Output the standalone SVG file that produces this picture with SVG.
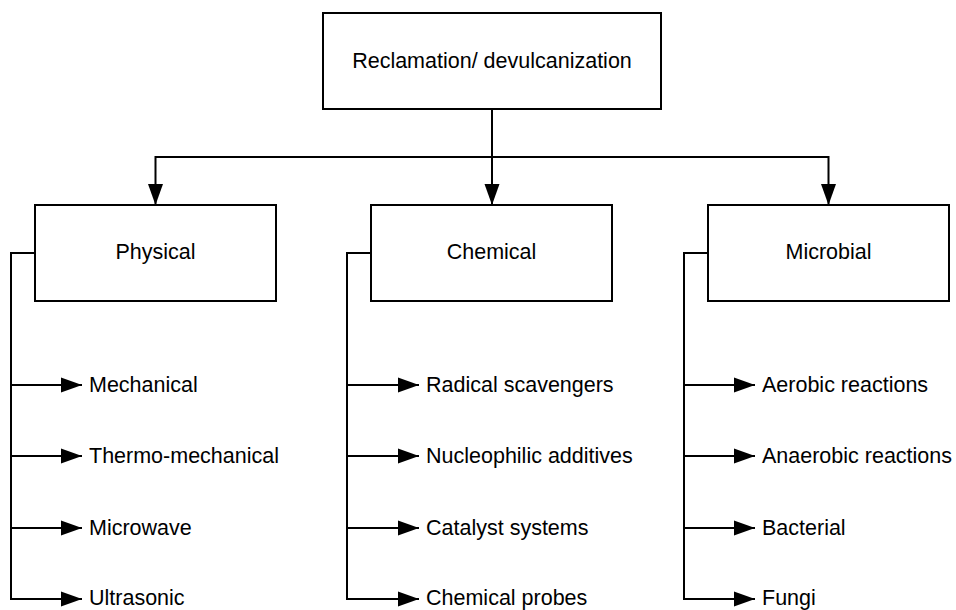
<svg xmlns="http://www.w3.org/2000/svg" width="956" height="610" viewBox="0 0 956 610">
<style>
.box{fill:#fff;stroke:#000;stroke-width:2}
.ln{fill:none;stroke:#000;stroke-width:2}
text{font-family:"Liberation Sans",Arial,sans-serif;font-size:21.5px;fill:#000}
.c{text-anchor:middle}
</style>
<defs>
<marker id="ah" markerWidth="21" markerHeight="16" refX="21" refY="8" orient="auto" markerUnits="userSpaceOnUse">
<path d="M0,0.5 L21,8 L0,15.5 Z" fill="#000"/>
</marker>
</defs>
<rect width="956" height="610" fill="#fff"/>
<g id="connectors">
<path class="ln" d="M492,109 V205" marker-end="url(#ah)"/>
<path class="ln" d="M492,157 H155.5 V205" marker-end="url(#ah)"/>
<path class="ln" d="M492,157 H828.5 V205" marker-end="url(#ah)"/>
<path class="ln" d="M35,253 H11 V599 H82" marker-end="url(#ah)"/>
<path class="ln" d="M11,385 H82" marker-end="url(#ah)"/>
<path class="ln" d="M11,456 H82" marker-end="url(#ah)"/>
<path class="ln" d="M11,528 H82" marker-end="url(#ah)"/>
<path class="ln" d="M371,253 H347 V599 H419" marker-end="url(#ah)"/>
<path class="ln" d="M347,385 H419" marker-end="url(#ah)"/>
<path class="ln" d="M347,456 H419" marker-end="url(#ah)"/>
<path class="ln" d="M347,528 H419" marker-end="url(#ah)"/>
<path class="ln" d="M708,253 H684 V599 H755" marker-end="url(#ah)"/>
<path class="ln" d="M684,385 H755" marker-end="url(#ah)"/>
<path class="ln" d="M684,456 H755" marker-end="url(#ah)"/>
<path class="ln" d="M684,528 H755" marker-end="url(#ah)"/>
</g>
<g id="root"><rect class="box" x="323" y="13" width="338" height="96"/><text class="c" x="492" y="68">Reclamation/ devulcanization</text></g>
<g id="physical"><rect class="box" x="35" y="205" width="241" height="96"/><text class="c" x="155.5" y="259">Physical</text></g>
<g id="chemical"><rect class="box" x="371" y="205" width="241" height="96"/><text class="c" x="491.5" y="259">Chemical</text></g>
<g id="microbial"><rect class="box" x="708" y="205" width="241" height="96"/><text class="c" x="828.5" y="259">Microbial</text></g>
<g id="mechanical"><text x="89" y="392">Mechanical</text></g>
<g id="thermo"><text x="89" y="463">Thermo-mechanical</text></g>
<g id="microwave"><text x="89" y="535">Microwave</text></g>
<g id="ultrasonic"><text x="89" y="605">Ultrasonic</text></g>
<g id="radical"><text x="426" y="392">Radical scavengers</text></g>
<g id="nucleophilic"><text x="426" y="463">Nucleophilic additives</text></g>
<g id="catalyst"><text x="426" y="535">Catalyst systems</text></g>
<g id="probes"><text x="426" y="605">Chemical probes</text></g>
<g id="aerobic"><text x="762" y="392">Aerobic reactions</text></g>
<g id="anaerobic"><text x="762" y="463">Anaerobic reactions</text></g>
<g id="bacterial"><text x="762" y="535">Bacterial</text></g>
<g id="fungi"><text x="762" y="605">Fungi</text></g>
</svg>
